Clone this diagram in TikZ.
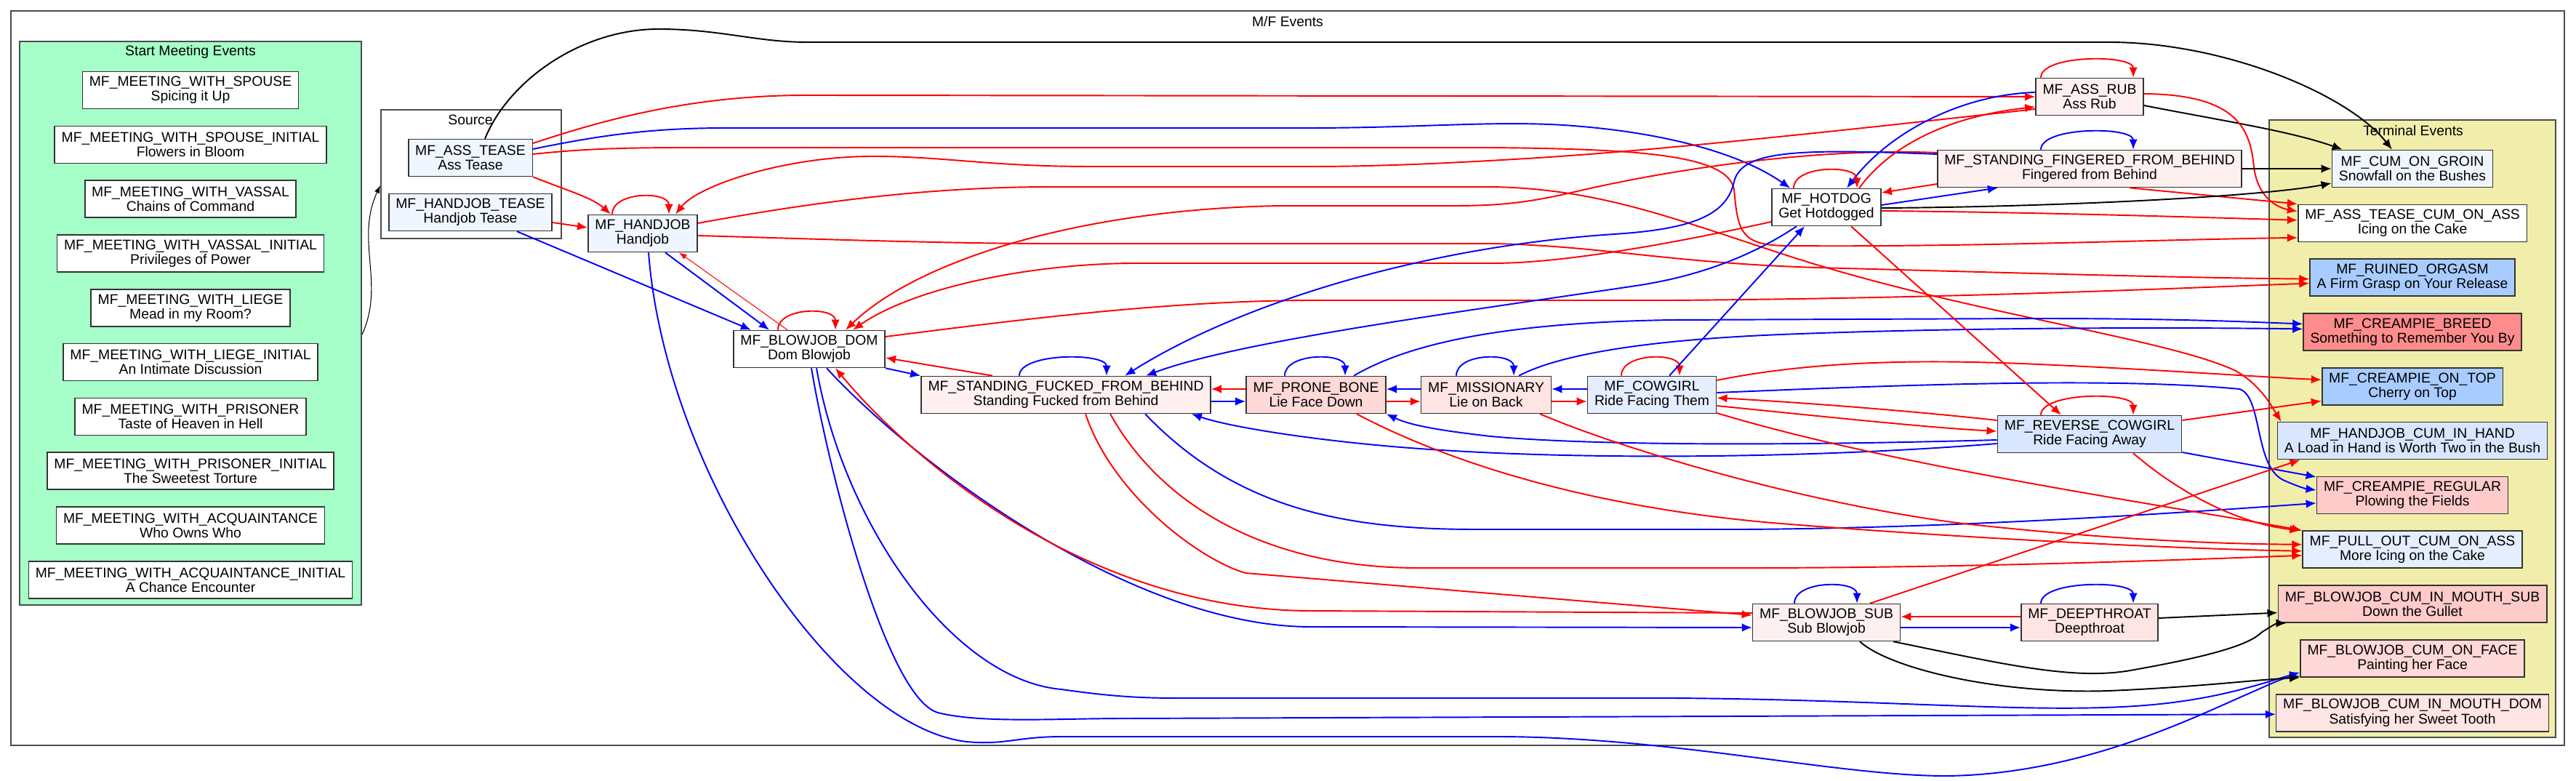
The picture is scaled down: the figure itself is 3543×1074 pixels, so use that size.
\documentclass[tikz,border=0pt]{standalone}
\usepackage{fontspec}
\setmainfont{Liberation Sans}
\usepackage{tikz}
\usetikzlibrary{arrows.meta,positioning}

\definecolor{meetgreen}{HTML}{A6FFC8}
\definecolor{termyellow}{HTML}{F0EEAA}
\definecolor{bxA}{HTML}{F0F6FF}
\definecolor{bxB}{HTML}{E4EEFF}
\definecolor{bxC}{HTML}{D8E6FF}
\definecolor{bxD}{HTML}{A8CCFF}
\definecolor{pkA}{HTML}{FFF0F0}
\definecolor{pkB}{HTML}{FFE4E4}
\definecolor{pkC}{HTML}{FFD8D8}
\definecolor{pkD}{HTML}{FFCACA}
\definecolor{pkE}{HTML}{FF8C8C}

\begin{document}
\begin{tikzpicture}[
  x=0.01cm, y=-0.01cm,
  font=\fontsize{5.5pt}{5.7pt}\selectfont, node distance=0.222cm,
  ev/.style={draw=black!80, line width=0.45pt, align=center, minimum height=0.51cm, inner xsep=0.095cm, inner ysep=0pt, fill=white},
  grp/.style={draw=black!70, line width=0.5pt, inner sep=0pt},
  rel/.style={line width=0.55pt, -{Latex[length=4pt,width=3.3pt]}},
  rrel/.style={rel, draw=red},
  brel/.style={rel, draw=blue},
  krel/.style={rel, draw=black},
  trel/.style={draw, line width=0.3pt, -{Latex[length=3pt,width=2.2pt]}}
]
\useasboundingbox (0,0) rectangle (3543,1074);

\node[grp, fill=white, minimum width=35.10cm, minimum height=10.10cm] (mfbox) at (1771,520) {};
\node (mftitle) at (1771,30) {M/F Events};
\node[grp, fill=meetgreen, minimum width=4.70cm, minimum height=7.75cm] (startbox) at (262,444.5) {};
\node (starttitle) at (262,72) {Start Meeting Events};
\node[grp, fill=white, minimum width=2.48cm, minimum height=1.77cm] (sourcebox) at (648,239.5) {};
\node (sourcetitle) at (647,165) {Source};
\node[grp, fill=termyellow, minimum width=3.94cm, minimum height=8.49cm] (termbox) at (3318,589.5) {};
\node (termtitle) at (3319,180) {Terminal Events};

\node[ev] (spouse) at (262,124) {MF\_MEETING\_WITH\_SPOUSE\\Spicing it Up};
\node[ev, below=of spouse] (spouseinit) {MF\_MEETING\_WITH\_SPOUSE\_INITIAL\\Flowers in Bloom};
\node[ev, below=of spouseinit] (vassal) {MF\_MEETING\_WITH\_VASSAL\\Chains of Command};
\node[ev, below=of vassal] (vassalinit) {MF\_MEETING\_WITH\_VASSAL\_INITIAL\\Privileges of Power};
\node[ev, below=of vassalinit] (liege) {MF\_MEETING\_WITH\_LIEGE\\Mead in my Room?};
\node[ev, below=of liege] (liegeinit) {MF\_MEETING\_WITH\_LIEGE\_INITIAL\\An Intimate Discussion};
\node[ev, below=of liegeinit] (prisoner) {MF\_MEETING\_WITH\_PRISONER\\Taste of Heaven in Hell};
\node[ev, below=of prisoner] (prisonerinit) {MF\_MEETING\_WITH\_PRISONER\_INITIAL\\The Sweetest Torture};
\node[ev, below=of prisonerinit] (acquaint) {MF\_MEETING\_WITH\_ACQUAINTANCE\\Who Owns Who};
\node[ev, below=of acquaint] (acquaintinit) {MF\_MEETING\_WITH\_ACQUAINTANCE\_INITIAL\\A Chance Encounter};

\node[ev, fill=bxA] (asstease) at (647,217) {MF\_ASS\_TEASE\\Ass Tease};
\node[ev, fill=bxA] (hjtease) at (647,292) {MF\_HANDJOB\_TEASE\\Handjob Tease};
\node[ev, fill=bxA] (handjob) at (884,321) {MF\_HANDJOB\\Handjob};
\node[ev] (bjdom) at (1113,480) {MF\_BLOWJOB\_DOM\\Dom Blowjob};
\node[ev, fill=pkA] (sfb) at (1466,543) {MF\_STANDING\_FUCKED\_FROM\_BEHIND\\Standing Fucked from Behind};
\node[ev, fill=pkC] (prone) at (1810,543) {MF\_PRONE\_BONE\\Lie Face Down};
\node[ev, fill=pkB] (missionary) at (2044,543) {MF\_MISSIONARY\\Lie on Back};
\node[ev, fill=bxB] (cowgirl) at (2272,543) {MF\_COWGIRL\\Ride Facing Them};
\node[ev, fill=bxC] (reverse) at (2874,597) {MF\_REVERSE\_COWGIRL\\Ride Facing Away};
\node[ev, fill=pkA] (assrub) at (2874,133) {MF\_ASS\_RUB\\Ass Rub};
\node[ev, fill=pkA] (fingered) at (2874,232) {MF\_STANDING\_FINGERED\_FROM\_BEHIND\\Fingered from Behind};
\node[ev] (hotdog) at (2512,285) {MF\_HOTDOG\\Get Hotdogged};
\node[ev, fill=pkA] (bjsub) at (2512,856) {MF\_BLOWJOB\_SUB\\Sub Blowjob};
\node[ev, fill=pkB] (deepthroat) at (2874,856) {MF\_DEEPTHROAT\\Deepthroat};

\node[ev, fill=bxA] (cumgroin) at (3318,232) {MF\_CUM\_ON\_GROIN\\Snowfall on the Bushes};
\node[ev, below=of cumgroin] (asscum) {MF\_ASS\_TEASE\_CUM\_ON\_ASS\\Icing on the Cake};
\node[ev, fill=bxD, below=of asscum] (ruined) {MF\_RUINED\_ORGASM\\A Firm Grasp on Your Release};
\node[ev, fill=pkE, below=of ruined] (breed) {MF\_CREAMPIE\_BREED\\Something to Remember You By};
\node[ev, fill=bxD, below=of breed] (ontop) {MF\_CREAMPIE\_ON\_TOP\\Cherry on Top};
\node[ev, fill=bxC, below=of ontop] (cuminhand) {MF\_HANDJOB\_CUM\_IN\_HAND\\A Load in Hand is Worth Two in the Bush};
\node[ev, fill=pkD, below=of cuminhand] (regular) {MF\_CREAMPIE\_REGULAR\\Plowing the Fields};
\node[ev, fill=bxB, below=of regular] (pullout) {MF\_PULL\_OUT\_CUM\_ON\_ASS\\More Icing on the Cake};
\node[ev, fill=pkD, below=of pullout] (bjmouthsub) {MF\_BLOWJOB\_CUM\_IN\_MOUTH\_SUB\\Down the Gullet};
\node[ev, fill=pkC, below=of bjmouthsub] (bjface) {MF\_BLOWJOB\_CUM\_ON\_FACE\\Painting her Face};
\node[ev, fill=pkB, below=of bjface] (bjmouthdom) {MF\_BLOWJOB\_CUM\_IN\_MOUTH\_DOM\\Satisfying her Sweet Tooth};

\draw[trel] ([yshift=-.155cm]startbox.east) .. controls (530,390) and (488,330) .. ([yshift=-.155cm]sourcebox.west);

\draw[krel] ([xshift=.2cm]asstease.north) .. controls (700,110) and (800,40) .. (906,40) .. controls (990,40) and (1040,58) .. (1110,58) -- (2900,58) .. controls (3060,58) and (3230,130) .. ([xshift=-.28cm]cumgroin.north);
\draw[rrel] ([yshift=.2cm]asstease.east) .. controls (830,165) and (950,131) .. (1110,131) -- (assrub.west);
\draw[brel] ([yshift=.12cm]asstease.east) .. controls (830,185) and (900,176) .. (1000,176) -- (1800,176) .. controls (1950,176) and (2050,166) .. (2150,172) .. controls (2300,182) and (2400,215) .. ([xshift=.26cm]hotdog.north west);
\draw[rrel] ([yshift=.05cm]asstease.east) .. controls (800,205) and (850,203) .. (950,203) -- (2050,203) .. controls (2250,205) and (2375,212) .. (2385,260) .. controls (2390,320) and (2395,338) .. (2460,338) .. controls (2700,340) and (2950,330) .. ([yshift=-.2cm]asscum.west);
\draw[rrel] (asstease.south east) .. controls (780,262) and (815,272) .. ([xshift=-.44cm]handjob.north);
\draw[rrel] ([yshift=-.14cm]hjtease.east) -- ([yshift=.08cm]handjob.west);
\draw[brel] ([xshift=.64cm]hjtease.south) -- ([xshift=-.8cm]bjdom.north);

\draw[rrel] ([xshift=-.42cm]handjob.north) .. controls +(0,-32) and +(0,-32) .. ([xshift=.36cm]handjob.north);
\draw[brel] ([xshift=.31cm]handjob.south) -- ([xshift=-.55cm]bjdom.north);
\draw[trel, draw=red] ([xshift=-.3cm]bjdom.north) -- ([xshift=.5cm]handjob.south);
\draw[rrel] ([yshift=.14cm]handjob.east) .. controls (1150,272) and (1300,257) .. (1446,257) -- (2054,257) .. controls (2200,260) and (2300,300) .. (2460,352) .. controls (2700,430) and (2980,465) .. (3075,510) .. controls (3110,530) and (3125,560) .. ([xshift=.06cm]cuminhand.north west);
\draw[rrel] ([yshift=-.03cm]handjob.east) .. controls (1100,328) and (1300,335) .. (1446,335) -- (2054,335) .. controls (2200,338) and (2300,362) .. (2500,368) .. controls (2800,376) and (3000,382) .. ([yshift=-.02cm]ruined.west);
\draw[brel] ([xshift=.08cm]handjob.south) .. controls (915,650) and (1150,1000) .. (1330,1020) .. controls (1380,1025) and (1400,1013) .. (1460,1013) -- (2058,1013) .. controls (2300,1013) and (2530,1068) .. (2680,1067) .. controls (2860,1064) and (3010,990) .. (3090,955) .. controls (3120,942) and (3140,932) .. ([yshift=.02cm]bjface.south west);
\draw[rrel] ([yshift=-.17cm]assrub.west) .. controls (2600,172) and (2300,206) .. (2100,218) .. controls (2000,224) and (1900,229) .. (1804,229) -- (1500,229) .. controls (1360,229) and (1300,215) .. (1200,215) .. controls (1080,215) and (960,255) .. ([xshift=.45cm]handjob.north);

\draw[rrel] ([xshift=-.43cm]bjdom.north) .. controls +(0,-32) and +(0,-32) .. ([xshift=.36cm]bjdom.north);
\draw[rrel] ([yshift=.22cm]fingered.west) .. controls (2500,203) and (2300,232) .. (2161,265) .. controls (2100,279) and (2060,283) .. (2000,283) -- (1760,283) .. controls (1480,288) and (1260,360) .. ([xshift=.5cm]bjdom.north);
\draw[rrel] ([yshift=-.2cm]hotdog.west) .. controls (2300,335) and (2150,362) .. (2054,362) -- (1554,362) .. controls (1400,364) and (1250,400) .. ([xshift=.6cm]bjdom.north);
\draw[rrel] ([yshift=.17cm]bjdom.east) .. controls (1400,440) and (1600,414) .. (1800,413) -- (2300,413) .. controls (2700,410) and (3000,396) .. ([yshift=-.08cm]ruined.west);
\draw[brel] (bjdom.south east) -- (sfb.north west);
\draw[rrel] ([xshift=-1.01cm]sfb.north) -- ([yshift=-.12cm]bjdom.east);
\draw[brel] ([xshift=.24cm]bjdom.south) .. controls (1250,630) and (1550,860) .. (1800,862) -- ([yshift=-.07cm]bjsub.west);
\draw[brel] ([xshift=.03cm]bjdom.south) .. controls (1140,650) and (1220,960) .. (1290,980) .. controls (1350,995) and (1450,988) .. (1550,988) -- ([yshift=-.02cm]bjmouthdom.west);
\draw[brel] ([xshift=.1cm]bjdom.south) .. controls (1160,720) and (1310,935) .. (1460,948) .. controls (1530,958) and (1570,960) .. (1620,960) -- (2300,960) .. controls (2600,962) and (2800,982) .. (2950,970) .. controls (3050,962) and (3110,940) .. ([yshift=.07cm]bjface.south west);
\draw[rrel] ([yshift=.13cm]bjsub.west) -- (1800,840) .. controls (1500,838) and (1260,640) .. ([xshift=.36cm]bjdom.south);

\draw[brel] ([xshift=-.64cm]sfb.north) .. controls +(0,-32) and +(0,-32) .. ([xshift=.56cm]sfb.north);
\draw[brel] ([yshift=-.09cm]sfb.east) -- ([yshift=-.09cm]prone.west);
\draw[rrel] ([yshift=.08cm]prone.west) -- ([yshift=.08cm]sfb.east);
\draw[rrel] ([xshift=.27cm]sfb.south) .. controls (1530,680) and (1650,770) .. (1713,788) -- ([yshift=.1cm]bjsub.west);
\draw[rrel] ([xshift=.61cm]sfb.south) .. controls (1600,700) and (1750,781) .. (1950,781) -- (2400,781) .. controls (2700,781) and (3000,770) .. ([yshift=-.08cm]pullout.west);
\draw[brel] ([xshift=1.09cm]sfb.south) .. controls (1700,700) and (1850,728) .. (2030,728) -- (2400,728) .. controls (2700,726) and (3000,705) .. ([yshift=-.11cm]regular.west);
\draw[brel] ([yshift=.2cm]fingered.west) .. controls (2480,205) and (2395,205) .. (2385,250) .. controls (2375,295) and (2330,315) .. (2220,322) .. controls (1950,340) and (1700,420) .. ([xshift=.81cm]sfb.north);
\draw[brel] ([xshift=-.41cm]hotdog.south) .. controls (2420,345) and (2350,378) .. (2250,393) .. controls (2000,430) and (1700,470) .. ([xshift=1.1cm]sfb.north);
\draw[brel] ([yshift=-.13cm]reverse.west) .. controls (2500,630) and (2200,632) .. (2000,620) .. controls (1850,612) and (1700,590) .. ([xshift=-.27cm]sfb.south east);

\draw[brel] ([xshift=-.43cm]prone.north) .. controls +(0,-32) and +(0,-32) .. ([xshift=.4cm]prone.north);
\draw[rrel] ([yshift=-.09cm]prone.east) -- ([yshift=-.09cm]missionary.west);
\draw[brel] ([yshift=.08cm]missionary.west) -- ([yshift=.08cm]prone.east);
\draw[brel] ([xshift=.52cm]prone.north) .. controls (1950,465) and (2100,443) .. (2300,440) -- (2800,438) .. controls (3000,438) and (3100,443) .. ([yshift=.11cm]breed.west);
\draw[rrel] ([xshift=.56cm]prone.south) .. controls (2000,640) and (2200,700) .. (2450,720) .. controls (2700,740) and (3000,755) .. ([yshift=-.02cm]pullout.west);
\draw[brel] ([yshift=-.08cm]reverse.west) .. controls (2500,612) and (2200,614) .. (2050,600) .. controls (1980,592) and (1940,585) .. (prone.south east);

\draw[brel] ([xshift=-.41cm]missionary.north) .. controls +(0,-32) and +(0,-32) .. ([xshift=.38cm]missionary.north);
\draw[rrel] ([yshift=-.09cm]missionary.east) -- ([yshift=-.09cm]cowgirl.west);
\draw[brel] ([yshift=.08cm]cowgirl.west) -- ([yshift=.08cm]missionary.east);
\draw[brel] ([xshift=.45cm]missionary.north) .. controls (2140,490) and (2250,468) .. (2450,460) .. controls (2700,450) and (3000,450) .. ([yshift=.04cm]breed.west);
\draw[rrel] ([xshift=.74cm]missionary.south) .. controls (2250,625) and (2500,695) .. (2700,720) .. controls (2900,742) and (3050,748) .. ([yshift=.07cm]pullout.west);

\draw[rrel] ([xshift=-.42cm]cowgirl.north) .. controls +(0,-32) and +(0,-32) .. ([xshift=.38cm]cowgirl.north);
\draw[brel] ([xshift=.24cm]cowgirl.north) -- ([xshift=-.3cm]hotdog.south);
\draw[rrel] ([yshift=.2cm]cowgirl.east) .. controls (2500,495) and (2650,495) .. (2780,500) .. controls (2950,507) and (3100,518) .. ([yshift=.09cm]ontop.west);
\draw[brel] ([yshift=.03cm]cowgirl.east) .. controls (2600,530) and (2900,518) .. (3080,535) .. controls (3112,545) and (3100,640) .. (3140,660) .. controls (3158,668) and (3170,672) .. ([yshift=.07cm]regular.west);
\draw[rrel] ([yshift=-.15cm]cowgirl.east) .. controls (2500,572) and (2650,588) .. ([yshift=.04cm]reverse.west);
\draw[rrel] ([yshift=.19cm]reverse.west) .. controls (2600,562) and (2450,552) .. ([yshift=-.04cm]cowgirl.east);
\draw[rrel] ([yshift=-.25cm]cowgirl.east) .. controls (2600,640) and (2950,690) .. (pullout.north west);

\draw[rrel] ([xshift=-.67cm]reverse.north) .. controls +(0,-32) and +(0,-32) .. ([xshift=.6cm]reverse.north);
\draw[rrel] ([xshift=.34cm]hotdog.south) -- ([xshift=-.39cm]reverse.north);
\draw[rrel] ([yshift=.19cm]reverse.east) -- ([yshift=-.2cm]ontop.west);
\draw[brel] ([yshift=-.25cm]reverse.east) -- ([yshift=.25cm]regular.west);
\draw[rrel] ([xshift=.6cm]reverse.south) .. controls (3000,680) and (3080,720) .. ([xshift=-.03cm]pullout.north west);

\draw[rrel] ([xshift=-.67cm]assrub.north) .. controls +(0,-32) and +(0,-32) .. ([xshift=.6cm]assrub.north);
\draw[brel] ([yshift=.06cm]assrub.west) .. controls (2700,130) and (2600,180) .. ([xshift=.28cm]hotdog.north);
\draw[rrel] ([xshift=.45cm]hotdog.north) .. controls (2600,200) and (2680,160) .. ([yshift=-.14cm]assrub.west);
\draw[krel] ([yshift=-.12cm]assrub.east) .. controls (3050,165) and (3150,180) .. ([xshift=.15cm]cumgroin.north west);
\draw[rrel] ([yshift=.04cm]assrub.east) .. controls (3080,130) and (3095,180) .. (3100,230) .. controls (3105,270) and (3130,285) .. ([yshift=.16cm]asscum.west);

\draw[brel] ([xshift=-.67cm]fingered.north) .. controls +(0,-32) and +(0,-32) .. ([xshift=.6cm]fingered.north);
\draw[rrel] ([yshift=-.21cm]fingered.west) -- ([yshift=.2cm]hotdog.east);
\draw[brel] ([yshift=.03cm]hotdog.east) -- ([xshift=-1.26cm]fingered.south);
\draw[krel] (fingered.east) -- (cumgroin.west);
\draw[rrel] ([xshift=.55cm]fingered.south) -- (asscum.north west);

\draw[rrel] ([xshift=-.45cm]hotdog.north) .. controls +(0,-32) and +(0,-32) .. ([xshift=.42cm]hotdog.north);
\draw[krel] ([yshift=-.01cm]hotdog.east) .. controls (2800,285) and (3100,272) .. ([yshift=-.2cm]cumgroin.west);
\draw[rrel] ([yshift=-.05cm]hotdog.east) .. controls (2800,292) and (3000,298) .. ([yshift=.04cm]asscum.west);

\draw[brel] ([xshift=-.44cm]bjsub.north) .. controls +(0,-32) and +(0,-32) .. ([xshift=.42cm]bjsub.north);
\draw[brel] ([yshift=-.07cm]bjsub.east) -- ([yshift=-.07cm]deepthroat.west);
\draw[rrel] ([yshift=.08cm]deepthroat.west) -- ([yshift=.08cm]bjsub.east);
\draw[brel] ([xshift=-.67cm]deepthroat.north) .. controls +(0,-32) and +(0,-32) .. ([xshift=.6cm]deepthroat.north);
\draw[krel] ([yshift=.06cm]deepthroat.east) -- ([yshift=-.12cm]bjmouthsub.west);
\draw[krel] ([xshift=-.1cm]bjsub.south east) .. controls (2750,912) and (2850,936) .. (2930,922) .. controls (3020,906) and (3090,890) .. (3110,870) .. controls (3125,860) and (3132,857) .. ([xshift=.12cm]bjmouthsub.south west);
\draw[krel] ([xshift=.46cm]bjsub.south) .. controls (2600,920) and (2750,955) .. (2900,950) .. controls (3020,945) and (3100,935) .. (bjface.south west);
\draw[rrel] ([xshift=.6cm]bjsub.north) -- ([xshift=.32cm]cuminhand.south west);
\end{tikzpicture}
\end{document}
